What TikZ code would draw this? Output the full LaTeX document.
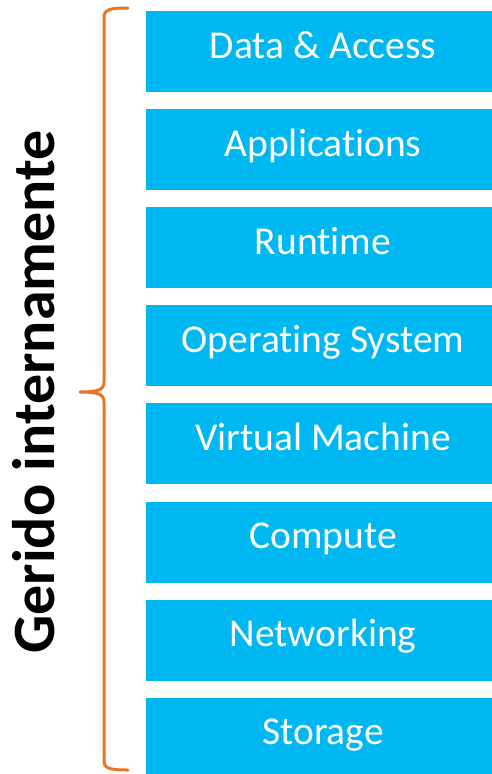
\documentclass[tikz,border=0pt]{standalone}
\usepackage{fontspec}
\setmainfont{Carlito}[Ligatures=NoCommon]
\usetikzlibrary{positioning}
\definecolor{layerblue}{HTML}{00B8F1}
\definecolor{braceorange}{HTML}{E97421}

\begin{document}
\begin{tikzpicture}[x=1pt, y=-1pt, node distance=16.7pt,
    layer/.style={fill=layerblue, text=white, inner sep=0pt, minimum width=354pt, minimum height=81pt, text height=29pt, text depth=16pt, font=\fontsize{39.5}{46}\selectfont},
    bracket/.style={draw=braceorange, line width=3pt, line cap=round, line join=round}]
    \useasboundingbox (0,0) rectangle (491,774);

    \node[layer] (data) at (323,51.5) {Data \& Access};
    \node[layer, below=of data] (apps) {Applications};
    \node[layer, below=of apps] (runtime) {Runtime};
    \node[layer, below=of runtime] (os) {Operating System};
    \node[layer, below=of os] (vm) {Virtual Machine};
    \node[layer, below=of vm] (compute) {Compute};
    \node[layer, below=of compute] (net) {Networking};
    \node[layer, below=of net] (storage) {Storage};

    % chaveta laranja
    \coordinate (topend) at (128,8);
    \coordinate (tip) at (80,392);
    \coordinate (botend) at (128,770);
    \draw[bracket] (topend) .. controls (108,8) and (104,10) .. (104,18) -- (104,382)
        .. controls (104,389) and (100,392) .. (tip)
        .. controls (100,392) and (104,395) .. (104,402) -- (104,760)
        .. controls (104,768) and (108,770) .. (botend);

    \node[rotate=90, anchor=base, inner sep=0pt, font=\fontsize{60}{64}\selectfont\bfseries] (label) at (54,392) {Gerido internamente};
\end{tikzpicture}
\end{document}
